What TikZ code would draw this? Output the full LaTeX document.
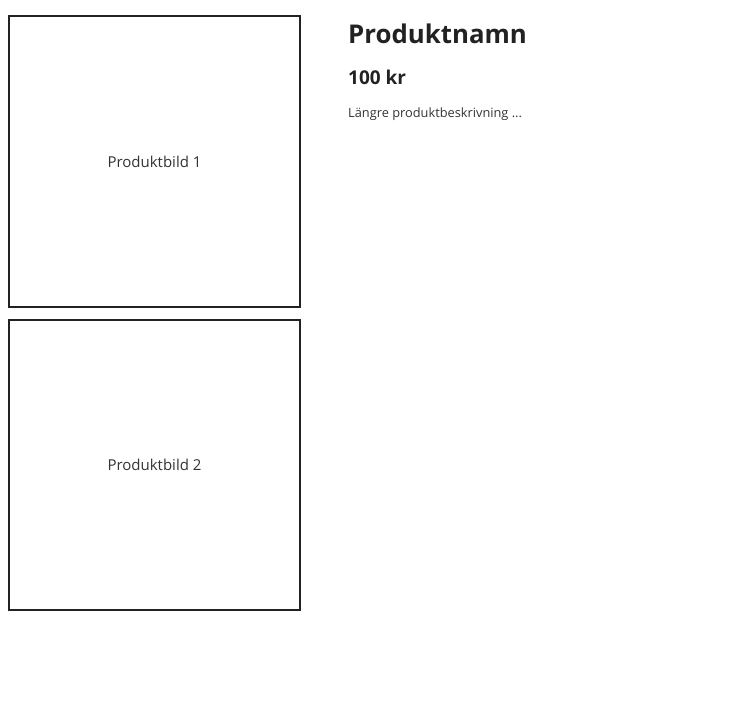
\documentclass[tikz,border=0pt]{standalone}
\usepackage{fontspec}
\setmainfont{Open Sans}
\definecolor{ink}{HTML}{222222}
\definecolor{txt}{HTML}{333333}
\begin{document}
\begin{tikzpicture}[x=1pt,y=-1pt,
  imgbox/.style={draw=ink,line width=2pt,minimum width=291pt,minimum height=290pt,inner sep=0pt,text=txt,font=\fontsize{15}{18}\selectfont},
  title/.style={anchor=base west,inner sep=0pt,text=ink,font=\fontsize{25.8}{31}\selectfont\bfseries},
  price/.style={anchor=base west,inner sep=0pt,text=ink,font=\fontsize{19}{23}\selectfont\bfseries},
  desc/.style={anchor=base west,inner sep=0pt,text=txt,font=\fontsize{12.8}{15}\selectfont}]
\useasboundingbox (0,0) rectangle (738,701);
\node[imgbox] (b1) at (154.5,161.5) {Produktbild 1};
\node[imgbox] (b2) at (154.5,464.5) {Produktbild 2};
\node[title] (t) at (348,44) {Produktnamn};
\node[price] (p) at (348,84) {100 kr};
\node[desc] (d) at (348,117) {Längre produktbeskrivning ...};
\end{tikzpicture}
\end{document}
